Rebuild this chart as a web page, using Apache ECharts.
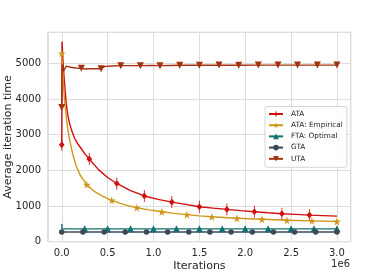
<!DOCTYPE html>
<html><head><meta charset="utf-8">
<script src="https://cdn.jsdelivr.net/npm/echarts@6/dist/echarts.min.js"></script>
<style>html,body{margin:0;padding:0;background:#fff}#c{width:389px;height:272px}</style>
</head><body><div id="c"></div>
<script>
// x values in units of 1e6 iterations
const ataX = [0, 0.003, 0.015, 0.03, 0.048, 0.066, 0.084, 0.11, 0.14, 0.175, 0.21, 0.25, 0.3, 0.4, 0.5, 0.6, 0.75, 0.9, 1.05, 1.2, 1.35, 1.5, 1.65, 1.8, 1.95, 2.1, 2.25, 2.4, 2.55, 2.7, 2.85, 3.0];
const ataY = [2716, 5610, 5000, 4450, 3900, 3550, 3330, 3100, 2900, 2740, 2620, 2470, 2320, 2020, 1800, 1632, 1430, 1282, 1185, 1110, 1045, 980, 940, 905, 870, 840, 810, 785, 765, 745, 730, 716];
const ataMarks = [0, 0.3, 0.6, 0.9, 1.2, 1.5, 1.8, 2.1, 2.4, 2.7];

const empX = [0, 0.01, 0.02, 0.03, 0.05, 0.066, 0.084, 0.12, 0.157, 0.2, 0.273, 0.35, 0.45, 0.545, 0.68, 0.818, 0.95, 1.091, 1.227, 1.364, 1.5, 1.636, 1.909, 2.182, 2.455, 2.727, 3.0];
const empY = [5280, 4800, 4350, 3950, 3480, 3150, 2880, 2450, 2130, 1870, 1600, 1420, 1270, 1160, 1040, 953, 893, 840, 795, 758, 725, 698, 658, 628, 602, 584, 566];
const empMarks = [0, 0.273, 0.545, 0.818, 1.091, 1.364, 1.636, 1.909, 2.182, 2.455, 2.727, 3.0];

const ftaX = [0, 0.002, 0.25, 0.5, 0.75, 1.0, 1.25, 1.5, 1.75, 2.0, 2.25, 2.5, 2.75, 3.0];
const ftaY = [500, 360, 360, 360, 360, 360, 360, 360, 360, 360, 360, 360, 360, 360];
const ftaMarks = [0.25, 0.5, 0.75, 1.0, 1.25, 1.5, 1.75, 2.0, 2.25, 2.5, 2.75, 3.0];

const gtaX = [0, 0.231, 0.462, 0.692, 0.923, 1.154, 1.385, 1.615, 1.846, 2.077, 2.308, 2.538, 2.769, 3.0];
const gtaY = [270, 270, 270, 270, 270, 270, 270, 270, 270, 270, 270, 270, 270, 270];
const gtaMarks = gtaX;

const utaX = [0, 0.004, 0.02, 0.05, 0.1, 0.15, 0.214, 0.26, 0.3, 0.36, 0.429, 0.47, 0.55, 0.643, 0.75, 0.857, 0.96, 1.071, 1.18, 1.286, 1.4, 1.5, 1.714, 1.929, 2.143, 2.357, 2.571, 2.786, 3.0];
const utaY = [3760, 4960, 4790, 4920, 4890, 4870, 4860, 4840, 4850, 4850, 4850, 4915, 4925, 4935, 4935, 4935, 4940, 4935, 4940, 4945, 4945, 4945, 4950, 4945, 4950, 4950, 4950, 4950, 4950];
const utaMarks = [0, 0.214, 0.429, 0.643, 0.857, 1.071, 1.286, 1.5, 1.714, 1.929, 2.143, 2.357, 2.571, 2.786, 3.0];

const seriesNames = ['ATA', 'ATA: Empirical', 'FTA: Optimal', 'GTA', 'UTA'];
const yTicks = [0, 1000, 2000, 3000, 4000, 5000];
const xTitle = 'Iterations';
const yTitle = 'Average iteration time';

function build(xs, ys, marks) {
  return xs.map((x, i) => marks.indexOf(x) >= 0 ? { value: [x, ys[i]] } : { value: [x, ys[i]], symbol: 'none' });
}

const STAR = 'path://M50,0 L61,35 L98,35 L68,57 L79,91 L50,70 L21,91 L32,57 L2,35 L39,35 Z';
const DIAM = 'path://M4,4 L8,10 L4,16 L0,10 Z M3.4,0 L4.6,0 L4.6,20 L3.4,20 Z';

function mk(name, data, color, symbol, size, rotate) {
  return {
    name, type: 'line', data, symbol, symbolSize: size, symbolRotate: rotate || 0,
    showSymbol: true, showAllSymbol: true, smooth: false,
    lineStyle: { color, width: 1.4 }, itemStyle: { color, borderWidth: 0 },
    emphasis: { disabled: true }
  };
}

const chart = echarts.init(document.getElementById('c'), null, { renderer: 'canvas' });
chart.setOption({
  animation: false,
  backgroundColor: '#fff',
  textStyle: { fontFamily: 'DejaVu Sans' },
  grid: { left: 48, right: 38.3, top: 32.3, bottom: 30.3, show: true, borderColor: '#cccccc', borderWidth: 1.2, backgroundColor: 'transparent', outerBoundsMode: 'none', containLabel: false },
  xAxis: {
    type: 'value', min: -0.15, max: 3.15, splitNumber: 6,
    axisLine: { show: false }, axisTick: { show: false },
    axisLabel: { fontSize: 10, color: '#262626', margin: 7, showMinLabel: false, showMaxLabel: false,
      formatter: v => v.toFixed(1), fontFamily: 'DejaVu Sans' },
    splitLine: { show: true, lineStyle: { color: '#dddddd', width: 1 } }
  },
  yAxis: {
    type: 'value', min: yTicks[0], max: 5870, splitNumber: 5,
    axisLine: { show: false }, axisTick: { show: false },
    axisLabel: { fontSize: 10, color: '#262626', margin: 7, showMaxLabel: false, fontFamily: 'DejaVu Sans',
      formatter: v => (yTicks.indexOf(v) >= 0 ? String(v) : '') },
    splitLine: { show: true, lineStyle: { color: '#dddddd', width: 1 } }
  },
  legend: {
    orient: 'vertical', left: 265, top: 106.5,
    data: seriesNames,
    itemWidth: 14, itemHeight: 7, itemGap: 2.2,
    padding: [3, 4, 4, 3],
    backgroundColor: 'rgba(255,255,255,0.85)', borderColor: '#cccccc', borderWidth: 0.8, borderRadius: 2,
    textStyle: { fontSize: 7.3, color: '#262626', lineHeight: 9, padding: [0, 0, 0, 3], fontFamily: 'DejaVu Sans' }
  },
  graphic: [
    { type: 'text', right: 39, top: 259, style: { text: '1e6', fontSize: 10, fill: '#262626', fontFamily: 'DejaVu Sans' } },
    { type: 'text', x: 199.4, y: 266.5, style: { text: xTitle, fontSize: 11, fill: '#262626', fontFamily: 'DejaVu Sans', align: 'center', verticalAlign: 'middle' } },
    { type: 'text', x: 8, y: 137, rotation: Math.PI / 2, style: { text: yTitle, fontSize: 11, fill: '#262626', fontFamily: 'DejaVu Sans', align: 'center', verticalAlign: 'middle' } }
  ],
  series: [
    mk(seriesNames[0], build(ataX, ataY, ataMarks), '#d10e10', DIAM, [5.5, 12]),
    mk(seriesNames[1], build(empX, empY, empMarks), '#cf981c', STAR, 8),
    mk(seriesNames[2], build(ftaX, ftaY, ftaMarks), '#137070', 'triangle', 7),
    mk(seriesNames[3], build(gtaX, gtaY, gtaMarks), '#3c4a58', 'circle', 5.5),
    mk(seriesNames[4], build(utaX, utaY, utaMarks), '#a5300f', 'triangle', 7, 180)
  ]
});
</script></body></html>
